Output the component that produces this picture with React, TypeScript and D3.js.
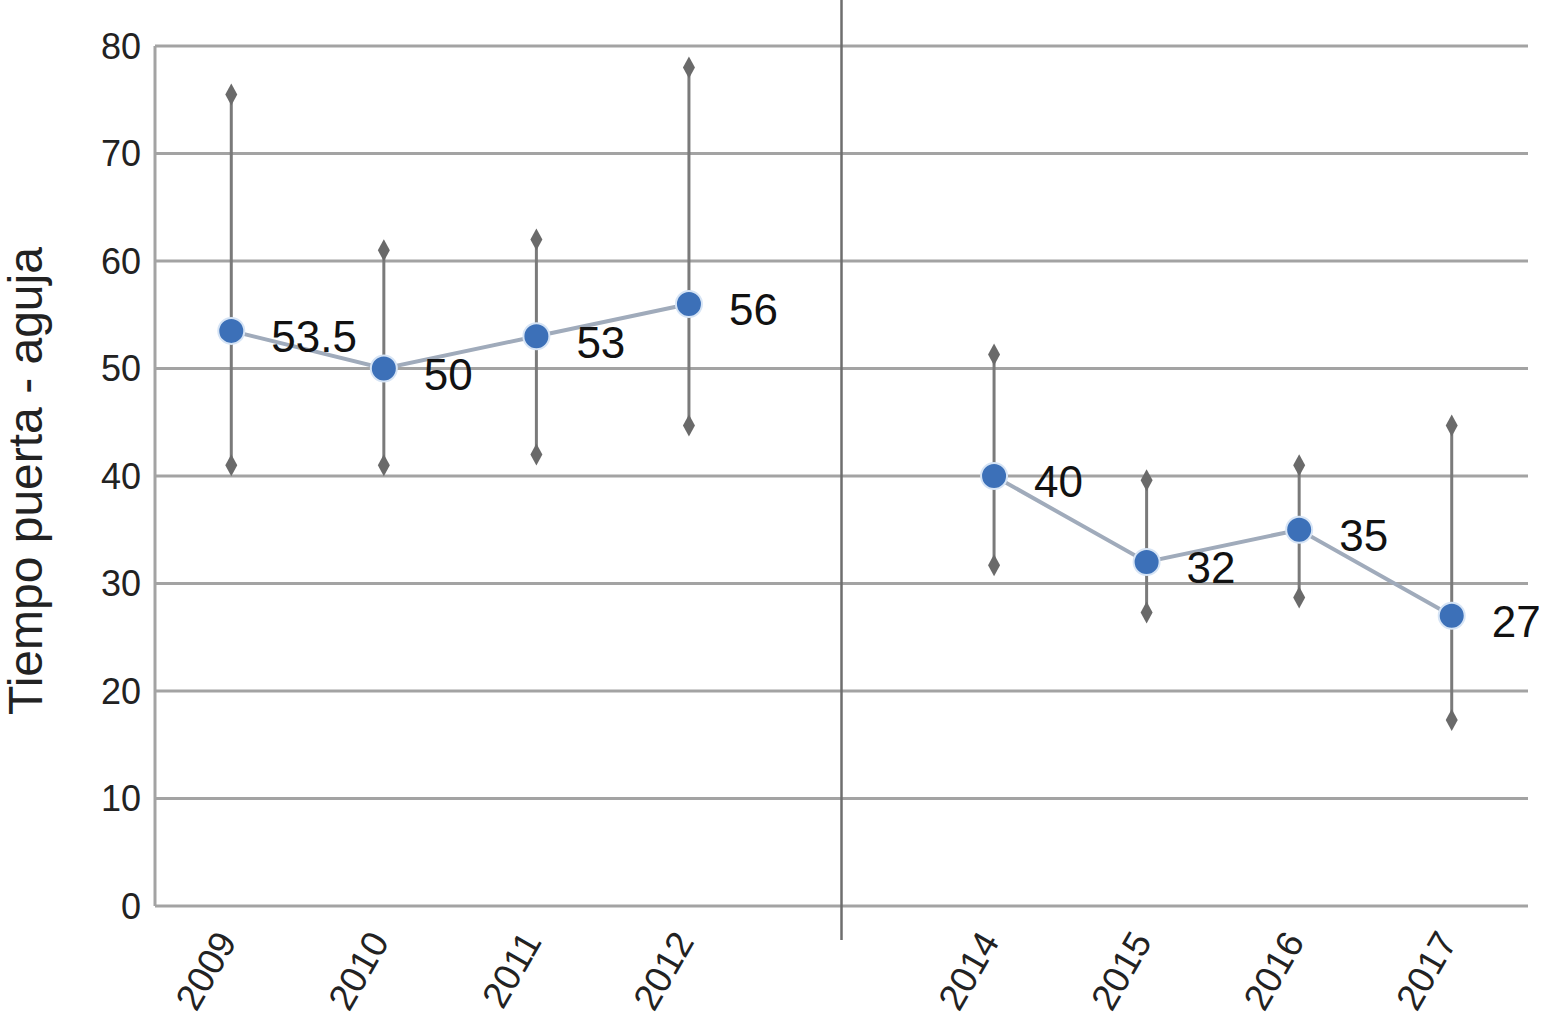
import React from "react";
import * as d3 from "d3";

const categories = ["2009", "2010", "2011", "2012", "2013", "2014", "2015", "2016", "2017"];
const years = ["2009", "2010", "2011", "2012", "2014", "2015", "2016", "2017"];
const values = [53.5, 50, 53, 56, 40, 32, 35, 27];
const labels = ["53.5", "50", "53", "56", "40", "32", "35", "27"];
const errLow = [41, 41, 42, 44.7, 31.7, 27.3, 28.7, 17.3];
const errHigh = [75.5, 61, 62, 78, 51.3, 39.6, 41, 44.7];
const yTicks = [0, 10, 20, 30, 40, 50, 60, 70, 80];
const segments = [["2009", "2010", "2011", "2012"], ["2014", "2015", "2016", "2017"]];
const separatorCategory = "2013";

const W = 1544, H = 1023;
const left = 155, right = 1528, top = 46, bottom = 906;

export default function App() {
  const x = d3.scaleBand<string>().domain(categories).range([left, right]);
  const cx = (c: string) => (x(c) as number) + x.bandwidth() / 2;
  const y = d3.scaleLinear().domain([0, 80]).range([bottom, top]);
  const line = d3.line<number>().x((i) => cx(years[i])).y((i) => y(values[i]));
  const font = "'Liberation Sans', Arial, Helvetica, sans-serif";
  const diamond = (px: number, py: number) =>
    `M${px},${py - 11} L${px + 6},${py} L${px},${py + 11} L${px - 6},${py} Z`;

  return (
    <svg width={W} height={H} style={{ position: "absolute", left: 0, top: 0, background: "#fff" }} fontFamily={font}>
      <defs>
        <filter id="soft" x="-50%" y="-50%" width="200%" height="200%">
          <feGaussianBlur stdDeviation="0.6" />
        </filter>
      </defs>
      {yTicks.map((t) => (
        <line key={t} x1={left} x2={right} y1={y(t)} y2={y(t)} stroke="#a3a3a3" strokeWidth={3} />
      ))}
      <line x1={left} x2={left} y1={top} y2={bottom} stroke="#a3a3a3" strokeWidth={3} />
      <line x1={cx(separatorCategory)} x2={cx(separatorCategory)} y1={0} y2={940} stroke="#6e6e6e" strokeWidth={2.5} />
      {yTicks.map((t) => (
        <text key={t} x={141} y={y(t)} dy="0.36em" textAnchor="end" fontSize={36} fill="#222">{t}</text>
      ))}
      <text transform={`translate(42,${481}) rotate(-90)`} textAnchor="middle" fontSize={48} fill="#222">Tiempo puerta - aguja</text>
      {years.map((c) => (
        <text key={c} transform={`translate(${cx(c) - 5},${935}) rotate(-60)`} textAnchor="end" dy="0.35em" fontSize={37} fill="#222">{c}</text>
      ))}
      {years.map((c, i) => (
        <g key={c}>
          <line x1={cx(c)} x2={cx(c)} y1={y(errLow[i])} y2={y(errHigh[i])} stroke="#7a7a7a" strokeWidth={3} />
          <path d={diamond(cx(c), y(errLow[i]))} fill="#6a6a6a" filter="url(#soft)" />
          <path d={diamond(cx(c), y(errHigh[i]))} fill="#6a6a6a" filter="url(#soft)" />
        </g>
      ))}
      {segments.map((seg, si) => {
        const idx = seg.map((s) => years.indexOf(s));
        return <path key={si} d={line(idx) as string} fill="none" stroke="#a0abbb" strokeWidth={4} />;
      })}
      {years.map((c, i) => (
        <circle key={c} cx={cx(c)} cy={y(values[i])} r={13} fill="#3c70b8" stroke="#d6e4f5" strokeWidth={2} />
      ))}
      {years.map((c, i) => (
        <text key={c} x={cx(c) + 40} y={y(values[i]) + 6} dy="0.35em" fontSize={44} fill="#111">{labels[i]}</text>
      ))}
    </svg>
  );
}
